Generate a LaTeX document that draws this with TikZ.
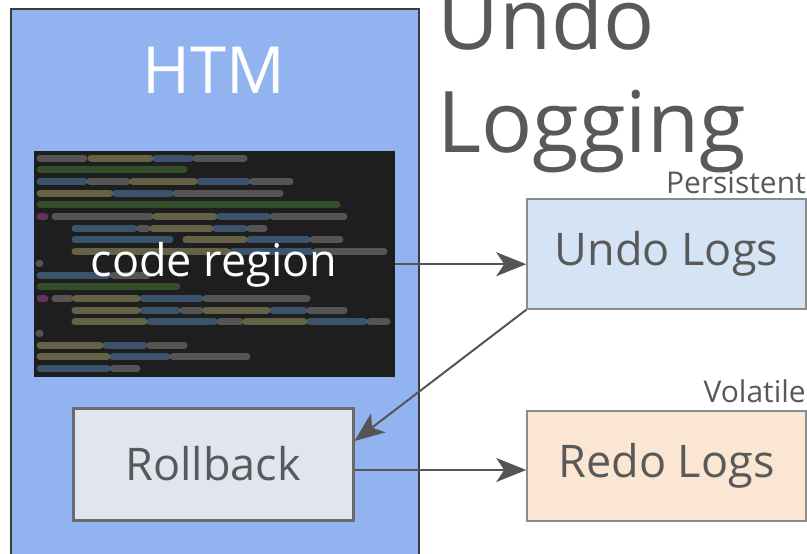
\documentclass[tikz,border=0pt]{standalone}
\usepackage{fontspec}
\setmainfont{Open Sans}
\usetikzlibrary{arrows.meta,positioning,calc}

\definecolor{htmblue}{HTML}{91B4F0}
\definecolor{htmborder}{HTML}{3C3C3C}
\definecolor{codebg}{HTML}{1E1E1E}
\definecolor{rollfill}{HTML}{E1E5F0}
\definecolor{undofill}{HTML}{D5E4F4}
\definecolor{redofill}{HTML}{FBE6D3}
\definecolor{textgray}{HTML}{595959}
\definecolor{arrowgray}{HTML}{555555}
\definecolor{cg}{HTML}{8C8C8C}
\definecolor{cy}{HTML}{A8A46E}
\definecolor{cb}{HTML}{5A8AB8}
\definecolor{cgr}{HTML}{4A7F3A}
\definecolor{cm}{HTML}{A4489C}

\tikzset{
  logbox/.style={draw=black!45, line width=1.5pt, inner sep=0pt, text=textgray,
    minimum width=279pt, minimum height=110pt, font=\fontsize{45}{52}\selectfont},
  flow/.style={draw=arrowgray, line width=2pt, -{Stealth[length=30pt,width=24pt,inset=8pt]}},
  tag/.style={text=textgray, font=\fontsize{30}{34}\selectfont, anchor=base east, inner sep=0pt},
  codeline/.style={line width=7pt, line cap=round, opacity=0.5},
}

\begin{document}
\begin{tikzpicture}[x=1pt,y=-1pt]
\useasboundingbox (0,0) rectangle (807,554);

% HTM side
\node[draw=htmborder, fill=htmblue, line width=2pt, minimum width=408pt, minimum height=580pt,
  anchor=north west, inner sep=0pt] (htm) at (10,8) {};
\node[text=white, font=\fontsize{65}{75}\selectfont, anchor=base] (htmtitle) at (214,93) {HTM};
\node[fill=codebg, minimum width=361pt, minimum height=226pt, anchor=north west, inner sep=0pt] (code) at (34,151) {};
% blurred source lines
\foreach \row/\from/\to/\col in {
  1/37/87/cg, 1/88/153/cy, 1/153/193/cb, 1/193/247/cg,
  2/37/187/cgr,
  3/37/87/cb, 3/87/130/cg, 3/130/197/cy, 3/197/250/cb, 3/250/293/cg,
  4/37/113/cy, 4/113/173/cb, 4/173/283/cg,
  5/37/340/cgr,
  6/37/48/cm, 6/52/153/cg, 6/153/217/cy, 6/217/270/cb, 6/270/347/cg,
  7/72/137/cb, 7/137/150/cg, 7/150/213/cy, 7/213/247/cb, 7/247/267/cg,
  8/72/173/cb, 8/183/247/cy, 8/247/310/cb, 8/310/343/cg,
  9/72/230/cy, 9/230/313/cb, 9/313/387/cg,
  10/37/42/cg,
  11/37/110/cb, 11/110/150/cg,
  12/37/180/cgr,
  13/37/48/cm, 13/52/73/cg, 13/73/140/cy, 13/140/203/cb, 13/203/310/cg,
  14/72/140/cy, 14/140/180/cb, 14/180/203/cg, 14/203/270/cy, 14/270/307/cb, 14/307/347/cg,
  15/72/147/cy, 15/147/217/cb, 15/217/243/cg, 15/243/307/cy, 15/307/367/cb, 15/367/390/cg,
  16/37/42/cg,
  17/37/103/cy, 17/103/147/cb, 17/147/187/cg,
  18/37/110/cy, 18/110/170/cb, 18/170/250/cg,
  19/37/110/cb, 19/110/140/cg}
  \draw[codeline, draw=\col] (\from+3, 146.3+11.7*\row) -- (\to-3, 146.3+11.7*\row);
\node[text=white, font=\fontsize{45}{52}\selectfont, anchor=base] (codetext) at (214,276) {code region};
\node[draw=black!58, fill=rollfill, line width=3pt, minimum width=280pt, minimum height=112pt,
  inner sep=0pt, text=textgray, font=\fontsize{45}{52}\selectfont] (rollback) at (213,464) {Rollback};

% logging side
\node[text=textgray, font=\fontsize{85}{103}\selectfont, align=left, anchor=north west, inner sep=0pt]
  (title) at (437,-15) {Undo\\Logging};
\node[logbox, fill=undofill] (undo) at (666.5,254) {Undo Logs};
\node[logbox, fill=redofill] (redo) at (666.5,466) {Redo Logs};
\node[tag] (persist) at (806,193) {Persistent};
\node[tag] (volatile) at (806,402) {Volatile};

\draw[flow] (code.east) -- (code.east -| undo.west);
\draw[flow] (undo.south west) -- ($(rollback.north east)!0.3!(rollback.south east)$);
\draw[flow] ($(rollback.east)+(0,6)$) -- ($(rollback.east -| redo.west)+(0,6)$);
\end{tikzpicture}
\end{document}
